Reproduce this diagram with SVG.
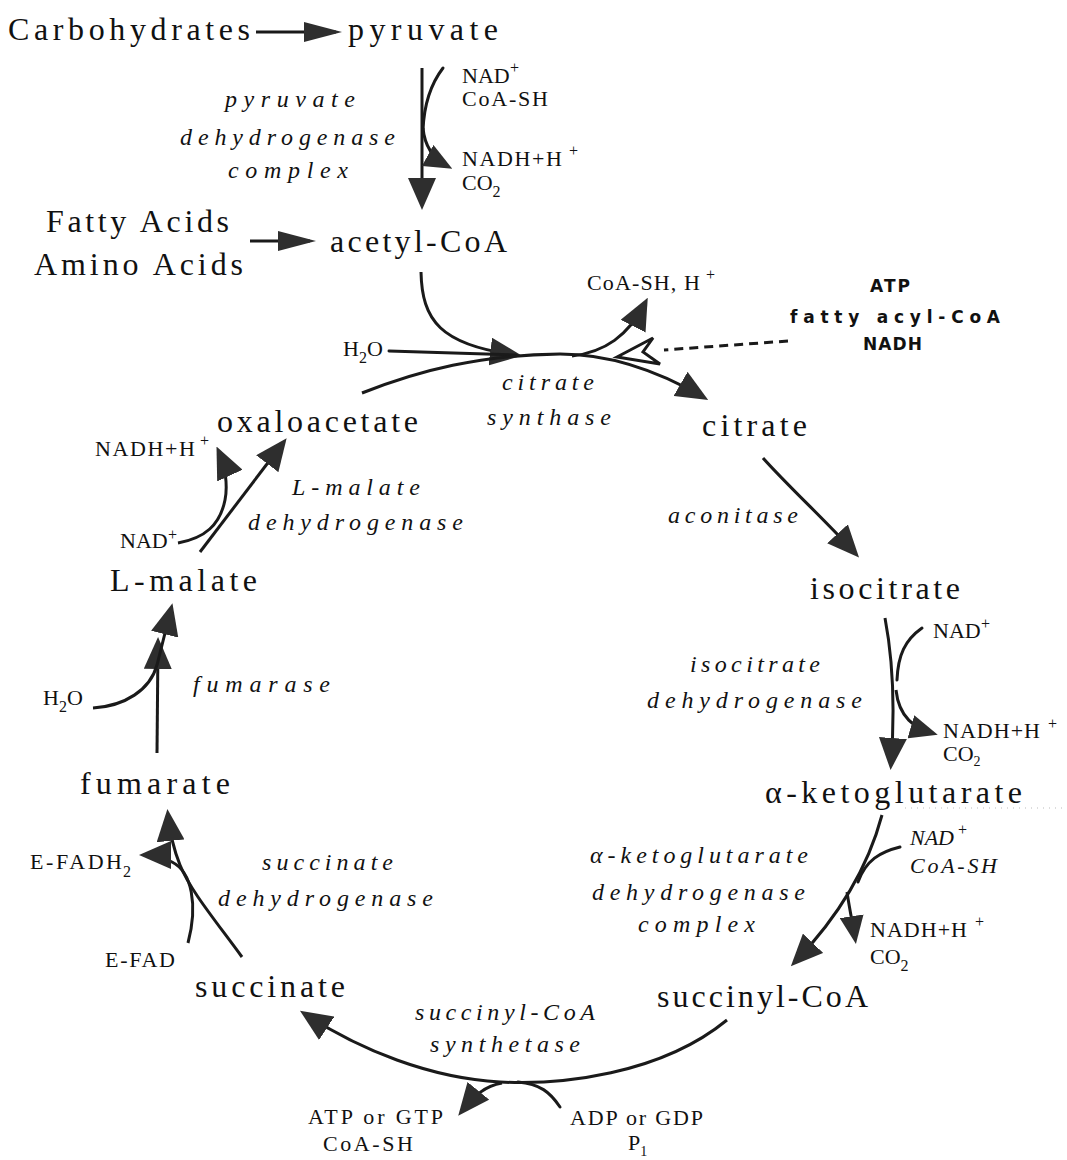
<svg xmlns="http://www.w3.org/2000/svg" width="1067" height="1160" viewBox="0 0 1067 1160">
<style>
.m{font-family:"Liberation Serif","Times New Roman",serif;font-size:32px;fill:#111}
.e{font-family:"Liberation Serif","Times New Roman",serif;font-style:italic;font-size:24px;fill:#111}
.s{font-family:"Liberation Serif","Times New Roman",serif;font-size:22px;fill:#111}
.si{font-family:"Liberation Serif","Times New Roman",serif;font-size:22px;font-style:italic;fill:#111}
.p{font-family:"Liberation Serif","Times New Roman",serif;font-size:16px;fill:#111}
.b{font-family:"DejaVu Sans","Liberation Sans",sans-serif;font-size:17px;font-weight:bold;fill:#111}
.l{fill:none;stroke:#1a1a1a;stroke-width:3;stroke-linecap:round}
.la{fill:none;stroke:#1a1a1a;stroke-width:3;marker-end:url(#a)}
.lb{fill:none;stroke:#1a1a1a;stroke-width:3;marker-end:url(#b)}
.lc{fill:none;stroke:#1a1a1a;stroke-width:3;marker-end:url(#c)}
</style>
<defs>
<marker id="a" markerUnits="userSpaceOnUse" viewBox="0 0 32 28" markerWidth="32" markerHeight="28" refX="26" refY="14" orient="auto"><path d="M0,0 L32,14 L0,28 Z" fill="#2e2e2e"/></marker>
<marker id="b" markerUnits="userSpaceOnUse" viewBox="0 0 28 24" markerWidth="28" markerHeight="24" refX="22" refY="12" orient="auto"><path d="M0,0 L28,12 L0,24 Z" fill="#2e2e2e"/></marker>
<marker id="c" markerUnits="userSpaceOnUse" viewBox="0 0 38 20" markerWidth="38" markerHeight="20" refX="32" refY="10" orient="auto"><path d="M0,0 L38,10 L0,20 Z" fill="#2e2e2e"/></marker>
</defs>
<rect width="1067" height="1160" fill="#fff"/>

<g id="connectors">
<path class="lc" d="M256,32 L336,32"/>
<path class="la" d="M422,68 L422,204"/>
<path class="l" d="M443,68 C430,85 424,105 423,130"/>
<path class="lb" d="M423,128 C425,150 436,160 447,166"/>
<path class="lc" d="M250,241 L310,241"/>
<path class="la" d="M421,272 C422,320 440,345 516,355"/>
<path class="l" d="M389,351 L516,355"/>
<path class="la" d="M362,393 C420,370 480,355 560,354 C610,354 660,372 703,397"/>
<path class="la" d="M572,356 C605,352 628,336 645,303"/>
<path d="M788,341 L664,350" fill="none" stroke="#1a1a1a" stroke-width="3" stroke-dasharray="9,6"/>
<polygon points="617,357 653,338 643,352 660,364" fill="#fff" stroke="#1a1a1a" stroke-width="3"/>
<path class="la" d="M763,458 C790,488 825,520 855,553"/>
<path class="la" d="M885,618 C893,660 895,710 891,764"/>
<path class="l" d="M922,628 C905,640 898,655 897,680"/>
<path class="lb" d="M896,690 C899,718 915,728 932,733"/>
<path class="la" d="M882,815 C870,860 845,910 795,962"/>
<path class="l" d="M900,847 C880,852 866,860 858,882"/>
<path class="lb" d="M847,892 C850,912 853,925 855,938"/>
<path class="la" d="M727,1020 C660,1075 560,1085 500,1082 C430,1078 360,1050 305,1014"/>
<path class="l" d="M560,1107 C550,1092 540,1084 518,1082"/>
<path class="la" d="M502,1083 C485,1086 475,1095 462,1111"/>
<path class="la" d="M242,957 C215,920 190,890 180,865 C174,850 170,835 168,815"/>
<path class="la" d="M188,943 C198,905 192,872 172,862 C162,857 153,855 145,855"/>
<path class="la" d="M157,753 L158,643"/>
<path class="la" d="M93,708 C125,706 150,690 157,665 L171,609"/>
<path class="la" d="M200,552 L283,443"/>
<path class="la" d="M178,543 C205,538 220,525 225,500 C228,485 225,465 219,452"/>
<path d="M905,808 L1062,808" stroke="#bbb" stroke-width="1" stroke-dasharray="1,5"/>
</g>

<g id="carbohydrates"><text class="m" x="8" y="40" textLength="242">Carbohydrates</text></g>
<g id="pyruvate"><text class="m" x="348" y="40" textLength="150">pyruvate</text></g>
<g id="pdh">
<text class="e" x="225" y="107" textLength="130">pyruvate</text>
<text class="e" x="180" y="145" textLength="215">dehydrogenase</text>
<text class="e" x="228" y="178" textLength="120">complex</text>
<text class="s" x="462" y="83">NAD</text><text class="p" x="510" y="73">+</text>
<text class="s" x="462" y="106" textLength="86">CoA-SH</text>
<text class="s" x="462" y="166" textLength="100">NADH+H</text><text class="p" x="569" y="156">+</text>
<text class="s" x="462" y="190">CO<tspan dy="7" font-size="16">2</tspan></text>
</g>
<g id="fatty"><text class="m" x="46" y="232" textLength="183">Fatty Acids</text><text class="m" x="34" y="275" textLength="209">Amino Acids</text></g>
<g id="acetylcoa"><text class="m" x="330" y="252" textLength="177">acetyl-CoA</text></g>
<g id="cs">
<text class="s" x="343" y="356">H<tspan dy="7" font-size="16">2</tspan><tspan dy="-7">O</tspan></text>
<text class="e" x="502" y="390" textLength="92">citrate</text>
<text class="e" x="487" y="425" textLength="124">synthase</text>
<text class="s" x="587" y="290" textLength="113">CoA-SH, H</text><text class="p" x="706" y="280">+</text>
</g>
<g id="inhibitors">
<text class="b" x="870" y="292" textLength="40">ATP</text>
<text class="b" x="790" y="323" textLength="210">fatty acyl-CoA</text>
<text class="b" x="863" y="350" textLength="59">NADH</text>
</g>
<g id="oxaloacetate"><text class="m" x="217" y="432" textLength="201">oxaloacetate</text></g>
<g id="citrate"><text class="m" x="702" y="436" textLength="105">citrate</text></g>
<g id="aconitase"><text class="e" x="668" y="523" textLength="130">aconitase</text></g>
<g id="isocitrate"><text class="m" x="810" y="599" textLength="150">isocitrate</text></g>
<g id="idh">
<text class="e" x="690" y="672" textLength="130">isocitrate</text>
<text class="e" x="647" y="708" textLength="215">dehydrogenase</text>
<text class="s" x="933" y="638">NAD</text><text class="p" x="981" y="629">+</text>
<text class="s" x="943" y="738" font-size="20" textLength="97">NADH+H</text><text class="p" x="1048" y="729">+</text>
<text class="s" x="943" y="761" font-size="20">CO<tspan dy="5" font-size="14">2</tspan></text>
</g>
<g id="akg"><text class="m" x="765" y="803" textLength="257">α-ketoglutarate</text></g>
<g id="akgdh">
<text class="e" x="590" y="863" textLength="218">α-ketoglutarate</text>
<text class="e" x="592" y="900" textLength="213">dehydrogenase</text>
<text class="e" x="638" y="932" textLength="117">complex</text>
<text class="si" x="910" y="845">NAD</text><text class="p" x="958" y="835">+</text>
<text class="si" x="910" y="873" textLength="87">CoA-SH</text>
<text class="s" x="870" y="937" textLength="97">NADH+H</text><text class="p" x="975" y="927">+</text>
<text class="s" x="870" y="964">CO<tspan dy="7" font-size="16">2</tspan></text>
</g>
<g id="succinylcoa"><text class="m" x="657" y="1007" textLength="211">succinyl-CoA</text></g>
<g id="scs">
<text class="e" x="415" y="1020" textLength="180">succinyl-CoA</text>
<text class="e" x="430" y="1052" textLength="150">synthetase</text>
<text class="s" x="570" y="1125" textLength="133">ADP or GDP</text>
<text class="s" x="628" y="1150">P<tspan dy="6" font-size="14">1</tspan></text>
<text class="s" x="308" y="1124" textLength="135">ATP or GTP</text>
<text class="s" x="323" y="1151" textLength="90">CoA-SH</text>
</g>
<g id="succinate"><text class="m" x="195" y="997" textLength="150">succinate</text></g>
<g id="sdh">
<text class="e" x="262" y="870" textLength="131">succinate</text>
<text class="e" x="218" y="906" textLength="215">dehydrogenase</text>
<text class="s" x="30" y="869" textLength="92">E-FADH</text><text class="p" x="123" y="877">2</text>
<text class="s" x="105" y="967" textLength="70">E-FAD</text>
</g>
<g id="fumarate"><text class="m" x="80" y="794" textLength="150">fumarate</text></g>
<g id="fumarase">
<text class="e" x="193" y="692" textLength="137">fumarase</text>
<text class="s" x="43" y="705">H<tspan dy="7" font-size="16">2</tspan><tspan dy="-7">O</tspan></text>
</g>
<g id="lmalate"><text class="m" x="110" y="591" textLength="147">L-malate</text></g>
<g id="mdh">
<text class="e" x="292" y="495" textLength="128">L-malate</text>
<text class="e" x="248" y="530" textLength="215">dehydrogenase</text>
<text class="s" x="95" y="456" textLength="100">NADH+H</text><text class="p" x="200" y="446">+</text>
<text class="s" x="120" y="548">NAD</text><text class="p" x="168" y="540">+</text>
</g>
</svg>
